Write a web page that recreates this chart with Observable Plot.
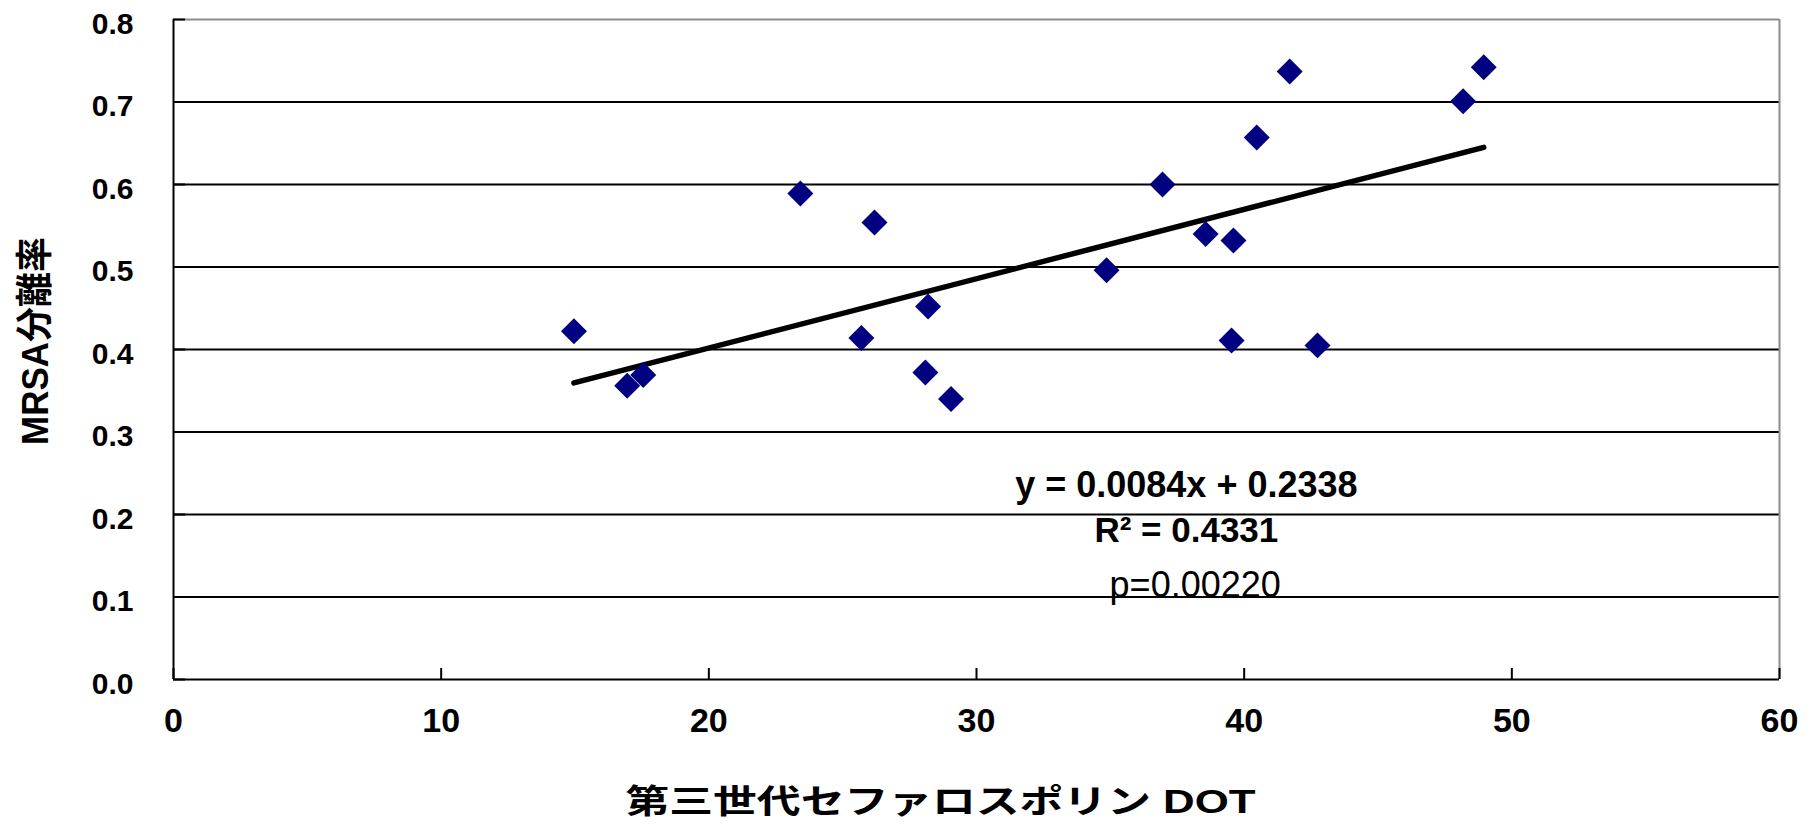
<!DOCTYPE html>
<html>
<head>
<meta charset="utf-8">
<script src="https://cdn.jsdelivr.net/npm/d3@7"></script>
<script src="https://cdn.jsdelivr.net/npm/@observablehq/plot@0.6"></script>
<style>
  html, body { margin: 0; padding: 0; background: #fff; }
</style>
</head>
<body>
<div id="chart"></div>
<script>
// ---- data ----
const doseDOT = [14.96, 16.95, 17.55, 23.42, 26.19, 25.70, 28.19, 28.09, 29.05, 34.86, 36.95, 38.56, 39.60, 40.47, 41.70, 39.53, 42.74, 48.18, 48.95];
const mrsaRate = [0.422, 0.356, 0.369, 0.589, 0.554, 0.414, 0.452, 0.372, 0.340, 0.496, 0.600, 0.540, 0.532, 0.657, 0.737, 0.411, 0.405, 0.701, 0.742];
const xTicks = [0, 10, 20, 30, 40, 50, 60];
const yTicks = [0, 0.1, 0.2, 0.3, 0.4, 0.5, 0.6, 0.7, 0.8];
const slope = 0.0084;
const intercept = 0.2338;
const eqLabels = ["y = 0.0084x + 0.2338", "R² = 0.4331", "p=0.00220"];
const xTitle = "第三世代セファロスポリン DOT";
const yTitle = "MRSA分離率";

const points = doseDOT.map((x, i) => ({x, y: mrsaRate[i]}));
const [xMin, xMax] = d3.extent(doseDOT);
const trend = [xMin, xMax].map(x => ({x, y: slope * x + intercept}));
const gridTicks = yTicks.filter(v => v > 0 && v < 0.8);

const font = "'Liberation Sans', Arial, 'Noto Sans CJK JP', sans-serif";

const chart = Plot.plot({
  width: 1813,
  height: 826,
  marginLeft: 173,
  marginRight: 34,
  marginTop: 19,
  marginBottom: 147,
  style: {fontFamily: font, background: "#fff", color: "#000", overflow: "visible"},
  x: {domain: [0, 60]},
  y: {domain: [0, 0.8]},
  marks: [
    Plot.gridY(gridTicks, {stroke: "#000", strokeOpacity: 1, strokeWidth: 1.8}),
    Plot.ruleY([0.8], {stroke: "#8c8c8c", strokeWidth: 2}),
    Plot.ruleX([60], {stroke: "#8c8c8c", strokeWidth: 2}),
    Plot.ruleX([0], {stroke: "#000", strokeWidth: 2}),
    Plot.ruleY([0], {stroke: "#000", strokeWidth: 2}),
    Plot.axisX({ticks: xTicks, tickSize: -11, fill: "none", stroke: "#000", strokeWidth: 2, label: null}),
    Plot.axisX({ticks: xTicks, tickSize: 0, tickPadding: 28, fontSize: 34, fontWeight: "bold", fill: "#000", label: null, tickFormat: d3.format("d")}),
    Plot.axisY({ticks: yTicks, tickSize: -12, fill: "none", stroke: "#000", strokeWidth: 2, label: null}),
    Plot.axisY({ticks: yTicks, tickSize: 0, tickPadding: 40, fontSize: 30, fontWeight: "bold", fill: "#000", dy: 4.5, label: null, tickFormat: d3.format(".1f")}),
    Plot.line(trend, {x: "x", y: "y", stroke: "#000", strokeWidth: 5.5, strokeLinecap: "round"}),
    Plot.dot(points, {x: "x", y: "y", symbol: "diamond2", r: 11.7, fill: "#000080", stroke: "none"}),
    Plot.text([eqLabels[0]], {x: () => 37.84, y: () => 0.2212, text: d => d, lineAnchor: "bottom", fontSize: 36, fontWeight: "bold", fill: "#000"}),
    Plot.text([eqLabels[1]], {x: () => 37.84, y: () => 0.1667, text: d => d, lineAnchor: "bottom", fontSize: 35, fontWeight: "bold", fill: "#000"}),
    Plot.text([eqLabels[2]], {x: () => 38.17, y: () => 0.1, text: d => d, lineAnchor: "bottom", fontSize: 36, fontWeight: "normal", fill: "#000"}),
    Plot.text([xTitle], {frameAnchor: "bottom-left", text: d => d, textAnchor: "start", lineAnchor: "bottom", dx: 452, dy: 133.5, fontSize: 33, fontWeight: "bold", fill: "#000", className: "xtitle"}),
    Plot.text([yTitle], {frameAnchor: "bottom-left", text: d => d, textAnchor: "start", lineAnchor: "bottom", rotate: -90, dx: -126, dy: -234.5, fontSize: 37, fontWeight: "bold", fill: "#000", className: "ytitle"})
  ]
});

document.getElementById("chart").appendChild(chart);
d3.select(chart).selectAll(".xtitle text").attr("textLength", 630).attr("lengthAdjust", "spacingAndGlyphs");
d3.select(chart).selectAll(".ytitle text").attr("textLength", 208).attr("lengthAdjust", "spacingAndGlyphs");
</script>
</body>
</html>
